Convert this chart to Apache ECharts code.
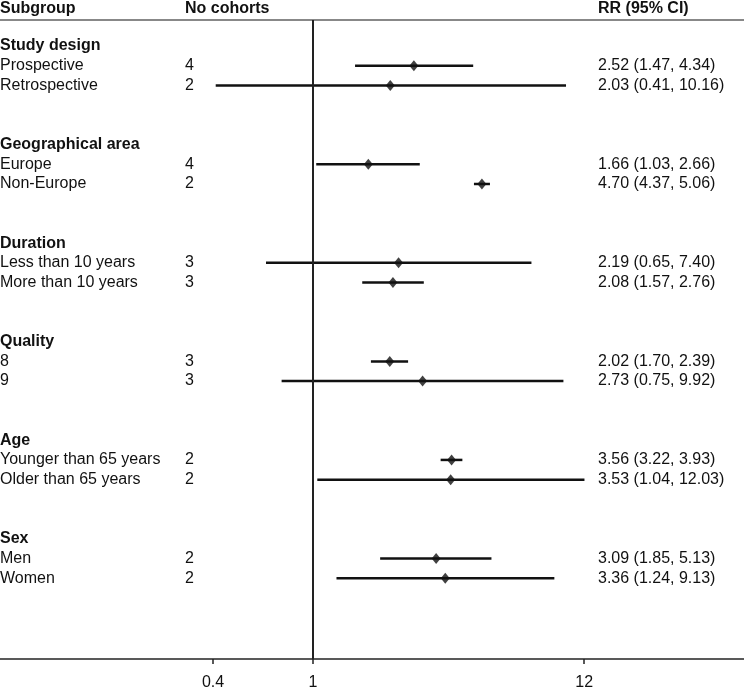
<!DOCTYPE html>
<html>
<head>
<meta charset="utf-8">
<script src="https://cdn.jsdelivr.net/npm/echarts@6/dist/echarts.min.js"></script>
<style>
	html, body { margin: 0; padding: 0; background: #fff; }
	#main { width: 744px; height: 689px; }
</style>
</head>
<body>
<div id="main"></div>
<script>
var headers = ['Subgroup', 'No cohorts', 'RR (95% CI)'];
var groups = ['Study design', 'Geographical area', 'Duration', 'Quality', 'Age', 'Sex'];
var subgroups = ['Prospective', 'Retrospective', 'Europe', 'Non-Europe', 'Less than 10 years', 'More than 10 years',
	'8', '9', 'Younger than 65 years', 'Older than 65 years', 'Men', 'Women'];
var cohorts = [4, 2, 4, 2, 3, 3, 3, 3, 2, 2, 2, 2];
var rr = [2.52, 2.03, 1.66, 4.70, 2.19, 2.08, 2.02, 2.73, 3.56, 3.53, 3.09, 3.36];
var lower = [1.47, 0.41, 1.03, 4.37, 0.65, 1.57, 1.70, 0.75, 3.22, 1.04, 1.85, 1.24];
var upper = [4.34, 10.16, 2.66, 5.06, 7.40, 2.76, 2.39, 9.92, 3.93, 12.03, 5.13, 9.13];
var xTicks = [0.4, 1, 12];

var FONT = '"Liberation Sans", Arial, sans-serif';
var TEXT_COLOR = '#111';
var colX = [0, 185, 598];

// row index: group heading every 5 rows, two subgroups below it
function groupRow(g) { return g * 5; }
function subRow(i) { return Math.floor(i / 2) * 5 + 1 + (i % 2); }

var textRows = [];
groups.forEach(function(g, k) { textRows.push({row: groupRow(k), cols: [g], bold: true}); });
subgroups.forEach(function(s, i) {
	var rrText = rr[i].toFixed(2) + ' (' + lower[i].toFixed(2) + ', ' + upper[i].toFixed(2) + ')';
	textRows.push({row: subRow(i), cols: [s, String(cohorts[i]), rrText], bold: false});
});

var ciData = subgroups.map(function(s, i) { return [lower[i], upper[i], subRow(i)]; });
var pointData = subgroups.map(function(s, i) { return [rr[i], subRow(i)]; });

var myChart = echarts.init(document.getElementById('main'));
var option = {
	animation: false,
	backgroundColor: '#fff',
	grid: {left: 0, right: 0, top: 20, bottom: 30, containLabel: false, outerBoundsMode: 'none'},
	graphic: headers.map(function(h, i) {
		return {
			type: 'text', left: colX[i], top: 1,
			style: {text: h, font: 'bold 16px ' + FONT, fill: TEXT_COLOR}
		};
	}),
	xAxis: [
		{
			type: 'log',
			min: 0.0568,
			max: 51.9,
			position: 'bottom',
			axisLine: {onZero: false, lineStyle: {color: '#222', width: 1.5}},
			axisTick: {show: true, customValues: xTicks, length: 5, lineStyle: {color: '#222', width: 1.5}},
			axisLabel: {
				customValues: xTicks, margin: 16, color: TEXT_COLOR, fontSize: 16, fontFamily: FONT,
				formatter: function(v) { return String(+(+v).toFixed(2)); }
			},
			splitLine: {show: false},
			minorTick: {show: false}
		},
		{
			type: 'value',
			position: 'top',
			min: 0, max: 1,
			axisLine: {show: true, onZero: false, lineStyle: {color: '#888', width: 2}},
			axisTick: {show: false},
			axisLabel: {show: false},
			splitLine: {show: false}
		}
	],
	yAxis: {
		type: 'value',
		inverse: true,
		min: -1.32,
		max: 31.1,
		show: false
	},
	series: [
		{
			type: 'custom',
			xAxisIndex: 0,
			clip: false,
			data: ciData,
			encode: {x: [0, 1], y: 2},
			renderItem: function(params, api) {
				var p1 = api.coord([api.value(0), api.value(2)]);
				var p2 = api.coord([api.value(1), api.value(2)]);
				return {
					type: 'line',
					shape: {x1: p1[0], y1: p1[1], x2: p2[0], y2: p2[1]},
					style: {stroke: '#111', lineWidth: 2.5}
				};
			},
			markLine: {
				silent: true,
				symbol: 'none',
				label: {show: false},
				lineStyle: {color: '#222', width: 2, type: 'solid'},
				data: [{xAxis: 1}]
			}
		},
		{
			type: 'scatter',
			xAxisIndex: 0,
			symbol: 'diamond',
			symbolSize: [9, 11],
			itemStyle: {color: '#111'},
			data: pointData,
			z: 3
		},
		{
			type: 'custom',
			xAxisIndex: 0,
			clip: false,
			data: textRows.map(function(r) { return [1, r.row]; }),
			encode: {x: 0, y: 1},
			renderItem: function(params, api) {
				var r = textRows[params.dataIndex];
				var y = api.coord([1, r.row])[1];
				return {
					type: 'group',
					children: r.cols.map(function(t, c) {
						return {
							type: 'text',
							x: colX[c], y: y,
							style: {
								text: t, fill: TEXT_COLOR,
								font: (r.bold ? 'bold ' : '') + '16px ' + FONT,
								textVerticalAlign: 'middle', verticalAlign: 'middle'
							}
						};
					})
				};
			}
		}
	]
};
myChart.setOption(option);
</script>
</body>
</html>
